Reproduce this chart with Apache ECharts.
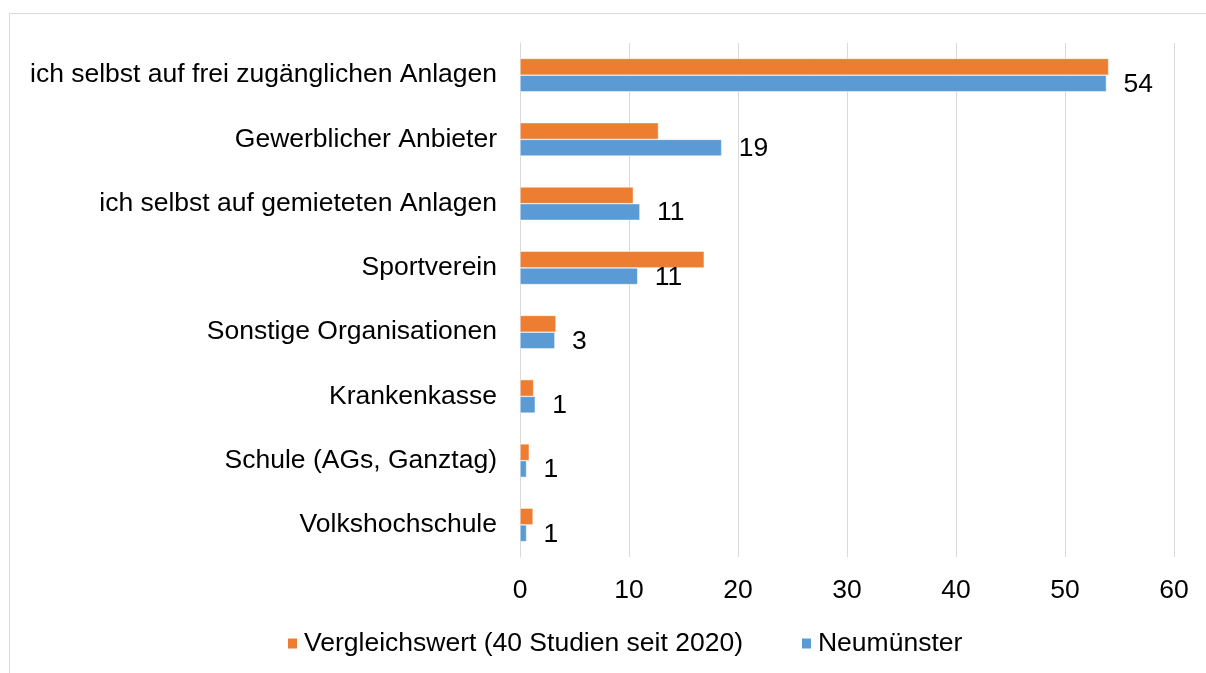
<!DOCTYPE html>
<html>
<head>
<meta charset="utf-8">
<script src="https://cdn.jsdelivr.net/npm/echarts@6/dist/echarts.min.js"></script>
<style>
html,body{margin:0;padding:0;background:#fff;}
#c{width:1206px;height:673px;}
</style>
</head>
<body>
<div id="c"></div>
<script>
var categories = [
  'ich selbst auf frei zugänglichen Anlagen',
  'Gewerblicher Anbieter',
  'ich selbst auf gemieteten Anlagen',
  'Sportverein',
  'Sonstige Organisationen',
  'Krankenkasse',
  'Schule (AGs, Ganztag)',
  'Volkshochschule'
];
var vergleichswert = [54.0, 12.7, 10.4, 16.9, 3.3, 1.25, 0.85, 1.2];
var neumuenster = [53.8, 18.5, 11.0, 10.8, 3.2, 1.4, 0.6, 0.6];
var xTicks = [0, 10, 20, 30, 40, 50, 60];
var seriesNames = ['Vergleichswert (40 Studien seit 2020)', 'Neumünster'];

var FONT = 'Liberation Sans, Arial, sans-serif';
var FS = 26.5;
var chart = echarts.init(document.getElementById('c'));
chart.setOption({
  animation: false,
  backgroundColor: '#fff',
  textStyle: { fontFamily: FONT, color: '#000' },
  graphic: [{
    type: 'rect', silent: true,
    shape: { x: 9.5, y: 13.5, width: 1400, height: 1000 },
    style: { fill: 'none', stroke: '#d9d9d9', lineWidth: 1 }
  }],
  grid: { left: 520, right: 32, top: 43, bottom: 116, containLabel: false },
  legend: {
    data: seriesNames,
    left: 281, top: 625,
    itemWidth: 11, itemHeight: 12, itemGap: 57,
    icon: 'rect',
    textStyle: { fontFamily: FONT, fontSize: FS, color: '#000', padding: [0, 0, 0, 1] }
  },
  xAxis: {
    type: 'value', min: xTicks[0], max: xTicks[xTicks.length - 1], interval: 10,
    axisLine: { show: false }, axisTick: { show: false },
    splitLine: { show: true, lineStyle: { color: '#d9d9d9', width: 1 } },
    axisLabel: { fontFamily: FONT, fontSize: FS, color: '#000', margin: 20 }
  },
  yAxis: {
    type: 'category', data: categories, inverse: true,
    axisLine: { show: true, lineStyle: { color: '#d9d9d9' } },
    axisTick: { show: false },
    axisLabel: { fontFamily: FONT, fontSize: FS, color: '#000', margin: 23 }
  },
  series: [
    {
      name: seriesNames[0], type: 'bar', data: vergleichswert,
      barCategoryGap: '48%', barGap: '0%',
      itemStyle: { color: '#ED7D31', borderColor: '#fff', borderWidth: 0.5 }
    },
    {
      name: seriesNames[1], type: 'bar', data: neumuenster,
      barCategoryGap: '48%', barGap: '0%',
      itemStyle: { color: '#5B9BD5', borderColor: '#fff', borderWidth: 0.5 },
      label: {
        show: true, position: 'right', distance: 17, offset: [0, 1],
        fontFamily: FONT, fontSize: FS, color: '#000',
        formatter: function (p) { return Math.round(p.value); }
      }
    }
  ]
});
</script>
</body>
</html>
